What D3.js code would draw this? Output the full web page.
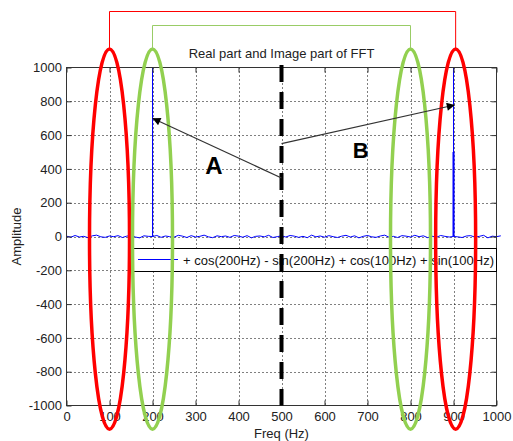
<!DOCTYPE html>
<html>
<head>
<meta charset="utf-8">
<script src="https://cdn.jsdelivr.net/npm/d3@7"></script>
<style>
  body { margin: 0; background: #fff; }
  svg { display: block; font-family: "Liberation Sans", Arial, sans-serif; }
</style>
</head>
<body>
<svg id="fftChart"></svg>
<script>
// --- data ---
const xTicks = [0, 100, 200, 300, 400, 500, 600, 700, 800, 900, 1000];
const yTicks = [-1000, -800, -600, -400, -200, 0, 200, 400, 600, 800, 1000];
const freqStep = 10;
// small noise floor around zero, one value every 10 Hz
const noiseValues = [
  2, -4, 6, -3, 1, -7, 4, 8, -2, -5, 3,
  -1, 5, -6, 2, 7, -3, -8, 4, 1, -2,
  6, -5, 3, -1, -4, 7, 2, -6, 5, -3,
  1, 8, -2, -7, 4, -1, 3, -5, 6, 2,
  -4, 5, -8, 1, 3, -2, 7, -6, -1, 4,
  -3, 6, 2, -5, 1, -7, 8, -2, 3, -4,
  5, -1, -6, 2, 7, -3, 4, -8, 1, 6,
  -2, -5, 3, 8, -4, 1, -6, 5, 2, -3,
  7, -1, 4, -7, 2, -5, 6, 1, -3, 8,
  -2, -6, 3, 5, -4, 1, 7, -8, 2, -1,
  4
];
const peakFreqs = [200, 900];
const peakValues = [1000, 1000];
const imagPeakFreqs = [900];
const imagPeakValues = [500];
const legendLabel = "+ cos(200Hz) - sin(200Hz) + cos(100Hz) + sin(100Hz)";

const width = 513;
const height = 441;
const margin = { top: 67.5, right: 16.5, bottom: 35.5, left: 66.5 };
const fontSize = "13px";

const svg = d3.select("#fftChart").attr("width", width).attr("height", height);

const x = d3.scaleLinear().domain([0, 1000]).range([margin.left, width - margin.right]);
const y = d3.scaleLinear().domain([-1000, 1000]).range([height - margin.bottom, margin.top]);

// build the spectrum: noise floor plus narrow spikes
function spectrum(noise, fs, vs) {
  const pts = noise.map((v, i) => ({ f: i * freqStep, v }));
  fs.forEach((f, i) => {
    pts.push({ f: f - 0.3, v: 0 }, { f: f, v: vs[i] }, { f: f + 0.3, v: 0 });
  });
  return pts.sort((a, b) => a.f - b.f);
}
const realData = spectrum(noiseValues, peakFreqs, peakValues);
const imagData = imagPeakFreqs.flatMap((f, i) => [{ f, v: 0 }, { f, v: imagPeakValues[i] }]);

// grid
const grid = svg.append("g");
grid.selectAll(".gx").data(xTicks.slice(1, -1)).join("line")
  .attr("x1", d => Math.round(x(d)) + 0.5).attr("x2", d => Math.round(x(d)) + 0.5)
  .attr("y1", y(1000)).attr("y2", y(-1000))
  .attr("stroke", "#000").attr("stroke-dasharray", "1,3");
grid.selectAll(".gy").data(yTicks.slice(1, -1)).join("line")
  .attr("x1", x(0)).attr("x2", x(1000))
  .attr("y1", d => Math.round(y(d)) + 0.5).attr("y2", d => Math.round(y(d)) + 0.5)
  .attr("stroke", "#000").attr("stroke-dasharray", "1,3");

// data lines
const line = d3.line().x(d => x(d.f)).y(d => y(d.v));
svg.append("path").datum(realData).attr("d", line)
  .attr("fill", "none").attr("stroke", "#0000ff").attr("stroke-width", 1);
svg.append("path").datum(imagData).attr("d", line)
  .attr("fill", "none").attr("stroke", "#0000ff").attr("stroke-width", 2);

// axes
const axisColor = "#333";
function styleAxis(g) {
  g.select(".domain").remove();
  g.selectAll(".tick line").attr("stroke", axisColor);
  g.selectAll("text").attr("fill", "#222").style("font-size", fontSize)
    .style("font-family", "'Liberation Sans', Arial, sans-serif");
}
const plain = d => String(d);
svg.append("g").attr("transform", `translate(0,${y(-1000)})`)
  .call(d3.axisBottom(x).tickValues(xTicks).tickSize(-5).tickPadding(6).tickFormat(plain)).call(styleAxis);
svg.append("g").attr("transform", `translate(0,${y(1000)})`)
  .call(d3.axisTop(x).tickValues(xTicks).tickSize(-5).tickFormat("")).call(styleAxis);
svg.append("g").attr("transform", `translate(${x(0)},0)`)
  .call(d3.axisLeft(y).tickValues(yTicks).tickSize(-5).tickPadding(4.5).tickFormat(plain)).call(styleAxis);
svg.append("g").attr("transform", `translate(${x(1000)},0)`)
  .call(d3.axisRight(y).tickValues(yTicks).tickSize(-5).tickFormat("")).call(styleAxis);

svg.append("rect")
  .attr("x", x(0)).attr("y", y(1000))
  .attr("width", x(1000) - x(0)).attr("height", y(-1000) - y(1000))
  .attr("fill", "none").attr("stroke", axisColor);

// labels
svg.append("text").attr("x", x(500)).attr("y", 58).attr("text-anchor", "middle")
  .style("font-size", fontSize).attr("fill", "#222").text("Real part and Image part of FFT");
svg.append("text").attr("x", x(500)).attr("y", 438).attr("text-anchor", "middle")
  .style("font-size", fontSize).attr("fill", "#222").text("Freq (Hz)");
svg.append("text").attr("transform", `translate(21,${y(0)}) rotate(-90)`).attr("text-anchor", "middle")
  .style("font-size", fontSize).attr("fill", "#222").text("Amplitude");

// legend
const legend = svg.append("g");
legend.append("rect").attr("x", 131.5).attr("y", 248.5).attr("width", x(1000) - 131.5).attr("height", 23)
  .attr("fill", "#fff").attr("stroke", "#000");
legend.append("line").attr("x1", 138).attr("x2", 178).attr("y1", 259.5).attr("y2", 259.5)
  .attr("stroke", "#0000ff");
legend.append("text").attr("x", 183).attr("y", 264.5)
  .style("font-size", fontSize).attr("fill", "#111").text(legendLabel);

// annotations
const ann = svg.append("g");
const topY = y(1110), botY = y(-1140);
const ellipses = [
  { f: 100, color: "#ff0000" }, { f: 200, color: "#92d050" },
  { f: 800, color: "#92d050" }, { f: 905, color: "#ff0000" }
];
ann.selectAll("ellipse").data(ellipses).join("ellipse")
  .attr("cx", d => x(d.f)).attr("cy", (topY + botY) / 2)
  .attr("rx", 20).attr("ry", (botY - topY) / 2)
  .attr("fill", "none").attr("stroke", d => d.color).attr("stroke-width", 3.5);

ann.append("path")
  .attr("d", `M${x(100)},${topY} V11.5 H${x(905)} V${topY}`)
  .attr("fill", "none").attr("stroke", "#ff0000");
ann.append("path")
  .attr("d", `M${x(200)},${topY} V25.5 H${x(800)} V${topY}`)
  .attr("fill", "none").attr("stroke", "#99cc66");

ann.append("line").attr("x1", x(500)).attr("x2", x(500)).attr("y1", 65).attr("y2", y(-1000))
  .attr("stroke", "#000").attr("stroke-width", 4).attr("stroke-dasharray", "17,10");

svg.append("defs").append("marker").attr("id", "arrow")
  .attr("viewBox", "0 0 10 10").attr("refX", 10).attr("refY", 5)
  .attr("markerWidth", 10).attr("markerHeight", 8).attr("markerUnits", "userSpaceOnUse")
  .attr("orient", "auto")
  .append("path").attr("d", "M0,0 L10,5 L0,10 Z").attr("fill", "#000");

ann.append("line").attr("x1", x(500)).attr("y1", y(346)).attr("x2", x(200)).attr("y2", y(700))
  .attr("stroke", "#333").attr("stroke-width", 1.2).attr("marker-end", "url(#arrow)");
ann.append("line").attr("x1", x(500)).attr("y1", y(550)).attr("x2", x(903)).attr("y2", y(778))
  .attr("stroke", "#333").attr("stroke-width", 1.2).attr("marker-end", "url(#arrow)");

ann.append("text").attr("x", x(343)).attr("y", y(370)).attr("text-anchor", "middle")
  .style("font-size", "24px").style("font-weight", "bold").attr("fill", "#000").text("A");
ann.append("text").attr("x", x(684)).attr("y", y(464)).attr("text-anchor", "middle")
  .style("font-size", "22px").style("font-weight", "bold").attr("fill", "#000").text("B");
</script>
</body>
</html>
